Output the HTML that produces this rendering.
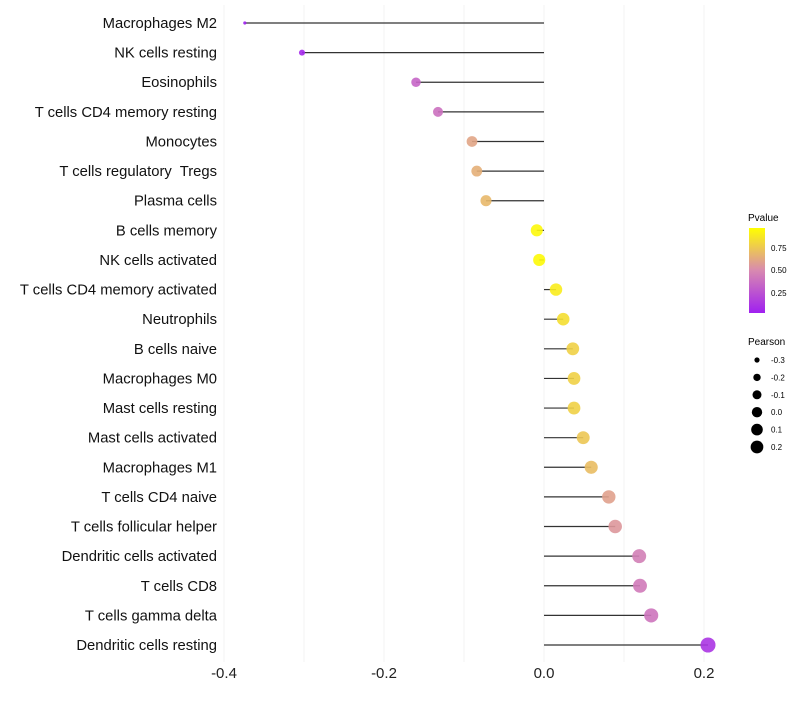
<!DOCTYPE html>
<html><head><meta charset="utf-8"><style>
body{margin:0;background:#fff;font-family:"Liberation Sans",sans-serif}
text{white-space:pre}
</style></head><body>
<svg id="chart" width="800" height="700" xmlns="http://www.w3.org/2000/svg" font-family="Liberation Sans, sans-serif">
<defs><linearGradient id="pg" x1="0" y1="1" x2="0" y2="0">
<stop offset="0" stop-color="#a020f0"/><stop offset="0.5" stop-color="#d889b0"/><stop offset="1" stop-color="#ffff00"/></linearGradient></defs>
<g id="grid"></g><g id="marks"></g><g id="labels"></g>
<g>
<text x="748" y="221" font-size="10">Pvalue</text>
<rect x="749" y="228" width="16" height="85" fill="url(#pg)"/>
<text x="771" y="251" font-size="8">0.75</text><text x="771" y="273" font-size="8">0.50</text><text x="771" y="296" font-size="8">0.25</text>
</g>
<g id="sizeleg">
<text x="748" y="345" font-size="10">Pearson</text>
</g>
</svg>
<script>
const categories=["Macrophages M2","NK cells resting","Eosinophils","T cells CD4 memory resting","Monocytes","T cells regulatory  Tregs","Plasma cells","B cells memory","NK cells activated","T cells CD4 memory activated","Neutrophils","B cells naive","Macrophages M0","Mast cells resting","Mast cells activated","Macrophages M1","T cells CD4 naive","T cells follicular helper","Dendritic cells activated","T cells CD8","T cells gamma delta","Dendritic cells resting"];
const pearson=[-0.374,-0.3025,-0.16,-0.1325,-0.09,-0.084,-0.0725,-0.009,-0.006,0.015,0.024,0.036,0.0375,0.0375,0.049,0.059,0.081,0.089,0.119,0.12,0.134,0.205];
const pvalue=[0.0,0.04,0.33,0.38,0.62,0.66,0.7,0.97,0.98,0.92,0.86,0.8,0.8,0.8,0.76,0.72,0.6,0.56,0.45,0.43,0.4,0.1];
const xticks=[-0.4,-0.2,0,0.2];
const xtickLabels=["-0.4","-0.2","0.0","0.2"];
const gridVals=[-0.4,-0.3,-0.2,-0.1,0,0.1,0.2];
const sizeLegVals=[-0.3,-0.2,-0.1,0.0,0.1,0.2];
const sizeLegLabels=["-0.3","-0.2","-0.1","0.0","0.1","0.2"];
const NS="http://www.w3.org/2000/svg";
const X=v=>544+v*800;
const Y=i=>23+i*(645-23)/21;
const R=v=>Math.sqrt(Math.max(0.5,2.5+54*(v+0.374)/0.579));
function lerp(a,b,t){return a.map((x,k)=>Math.round(x+(b[k]-x)*t));}
function col(p){const s=[[160,32,240],[216,137,176],[255,255,0]];const c=p<0.5?lerp(s[0],s[1],p/0.5):lerp(s[1],s[2],(p-0.5)/0.5);return `rgb(${c})`;}
function mk(t,a,parent){const e=document.createElementNS(NS,t);for(const k in a)e.setAttribute(k,a[k]);parent.appendChild(e);return e;}
const grid=document.getElementById('grid'),marks=document.getElementById('marks'),labels=document.getElementById('labels');
gridVals.forEach(v=>{const l=mk('line',{x1:X(v),x2:X(v),y1:5,y2:662,stroke:'#f3f3f3','stroke-width':1},grid);

});
xticks.forEach((v,i)=>{const t=mk('text',{x:X(v),y:678,'font-size':15,'text-anchor':'middle',fill:'#222'},labels);t.textContent=xtickLabels[i];

});
categories.forEach((c,i)=>{
const y=Y(i);
const t=mk('text',{x:217,y:y+5,'font-size':14.8,'text-anchor':'end',fill:'#111'},labels);t.textContent=c;


const l=mk('line',{x1:X(0),x2:X(pearson[i]),y1:y,y2:y,stroke:'#333','stroke-width':1.2},marks);


const p=mk('circle',{cx:X(pearson[i]),cy:y,r:R(pearson[i]),fill:col(pvalue[i]),'fill-opacity':0.9},marks);


});
const sl=document.getElementById('sizeleg');
sizeLegVals.forEach((v,i)=>{const y=360+i*17.4;
const c=mk('circle',{cx:757,cy:y,r:R(v)*0.85,fill:'#000'},sl);


const t=mk('text',{x:771,y:y+3,'font-size':8},sl);t.textContent=sizeLegLabels[i];

});
</script>
</body></html>
